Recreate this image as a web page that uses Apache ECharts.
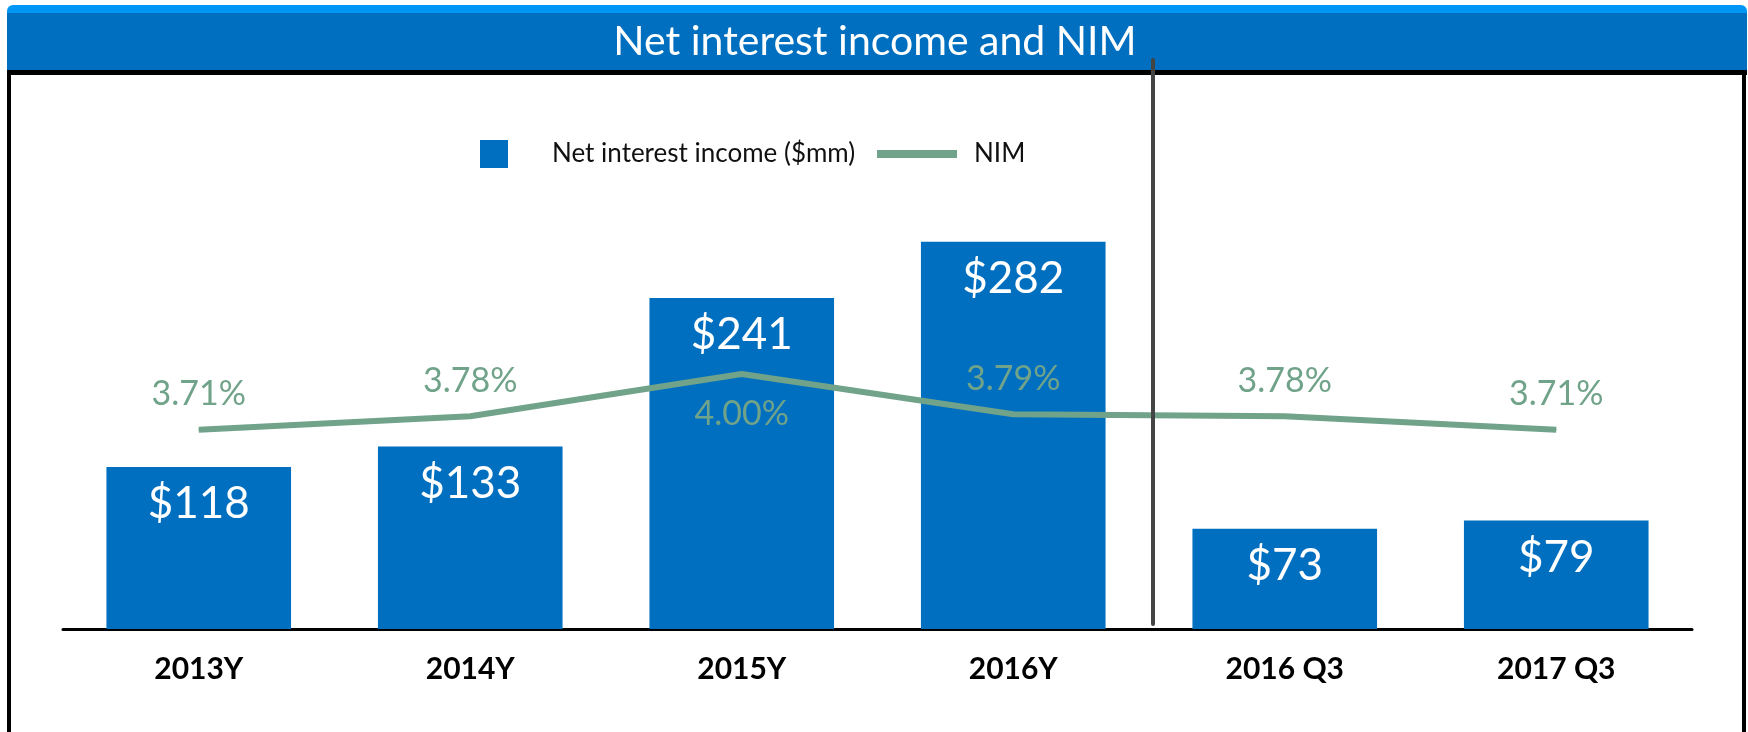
<!DOCTYPE html>
<html>
<head>
<meta charset="utf-8">
<script src="https://cdn.jsdelivr.net/npm/echarts@6/dist/echarts.min.js"></script>
<style>
  html, body { margin: 0; padding: 0; background: #fff; }
  #chart { width: 1748px; height: 732px; }
</style>
</head>
<body>
<div id="chart"></div>
<script>
// chart data
var categories = ['2013Y', '2014Y', '2015Y', '2016Y', '2016 Q3', '2017 Q3'];
var netInterestIncome = [118, 133, 241, 282, 73, 79];
var nim = [3.71, 3.78, 4.00, 3.79, 3.78, 3.71];
var nimLabelBelow = [false, false, true, false, false, false];

var BLUE = '#006fc0';
var GREEN = '#70a389';
var FONT = 'Lato, "Open Sans", sans-serif';

var myChart = echarts.init(document.getElementById('chart'));

var nimData = nim.map(function (v, i) {
    var item = { value: v };
    if (nimLabelBelow[i]) {
        item.label = { position: 'bottom', distance: 22 };
    }
    return item;
});

myChart.setOption({
    animation: false,
    backgroundColor: '#fff',
    legend: [{
        data: ['Net interest income ($mm)'],
        left: 475,
        top: 135,
        icon: 'rect',
        itemWidth: 28,
        itemHeight: 28,
        textStyle: { fontFamily: FONT, fontSize: 26, color: '#111', padding: [0, 0, 0, 39] }
    }, {
        data: ['NIM'],
        left: 872,
        top: 136,
        icon: 'rect',
        itemWidth: 80,
        itemHeight: 8,
        textStyle: { fontFamily: FONT, fontSize: 26, color: '#111', padding: [0, 0, 0, 12] }
    }],
    grid: { left: 63, right: 56, top: 121, bottom: 103 },
    xAxis: {
        type: 'category',
        data: categories,
        axisLine: { lineStyle: { color: '#000', width: 3 } },
        axisTick: { show: false },
        axisLabel: { fontFamily: FONT, fontSize: 30, fontWeight: 'bold', color: '#000', margin: 25 }
    },
    yAxis: [{
        type: 'value', min: 0, max: 370, show: false
    }, {
        type: 'value', min: 2.67, max: 5.32, show: false
    }],
    series: [{
        name: 'Net interest income ($mm)',
        type: 'bar',
        data: netInterestIncome,
        barWidth: '68%',
        itemStyle: { color: BLUE },
        label: {
            show: true,
            position: 'insideTop',
            distance: 15,
            fontFamily: FONT,
            fontSize: 44,
            color: '#fff',
            formatter: function (p) { return '$' + p.value; }
        }
    }, {
        name: 'NIM',
        type: 'line',
        yAxisIndex: 1,
        data: nimData,
        symbol: 'circle',
        symbolSize: 1,
        lineStyle: { color: GREEN, width: 6 },
        itemStyle: { color: GREEN },
        z: 3,
        label: {
            show: true,
            position: 'top',
            distance: 18,
            fontFamily: FONT,
            fontSize: 34,
            color: GREEN,
            formatter: function (p) { return p.value.toFixed(2) + '%'; }
        }
    }],
    graphic: [
        // header band
        { type: 'rect', shape: { x: 7, y: 5, width: 1740, height: 12, r: [6, 6, 0, 0] }, style: { fill: '#0096f5' }, z: 0 },
        { type: 'rect', shape: { x: 7, y: 13, width: 1740, height: 58 }, style: { fill: BLUE }, z: 0 },
        { type: 'rect', shape: { x: 7, y: 70, width: 1740, height: 5 }, style: { fill: '#000' }, z: 1 },
        // frame sides
        { type: 'rect', shape: { x: 7, y: 70, width: 4, height: 662 }, style: { fill: '#000' }, z: 1 },
        { type: 'rect', shape: { x: 1742, y: 70, width: 4, height: 662 }, style: { fill: '#000' }, z: 1 },
        // divider between yearly and quarterly figures
        { type: 'line', shape: { x1: 1153, y1: 60, x2: 1153, y2: 624 }, style: { stroke: '#444', lineWidth: 4, lineCap: 'round' }, z: 10 },
        {
            type: 'text', x: 875, y: 42, z: 11,
            style: {
                text: 'Net interest income and NIM',
                fill: '#fff',
                font: '41px Lato, "Open Sans", sans-serif',
                textAlign: 'center',
                textVerticalAlign: 'middle'
            }
        }
    ]
});
</script>
</body>
</html>
